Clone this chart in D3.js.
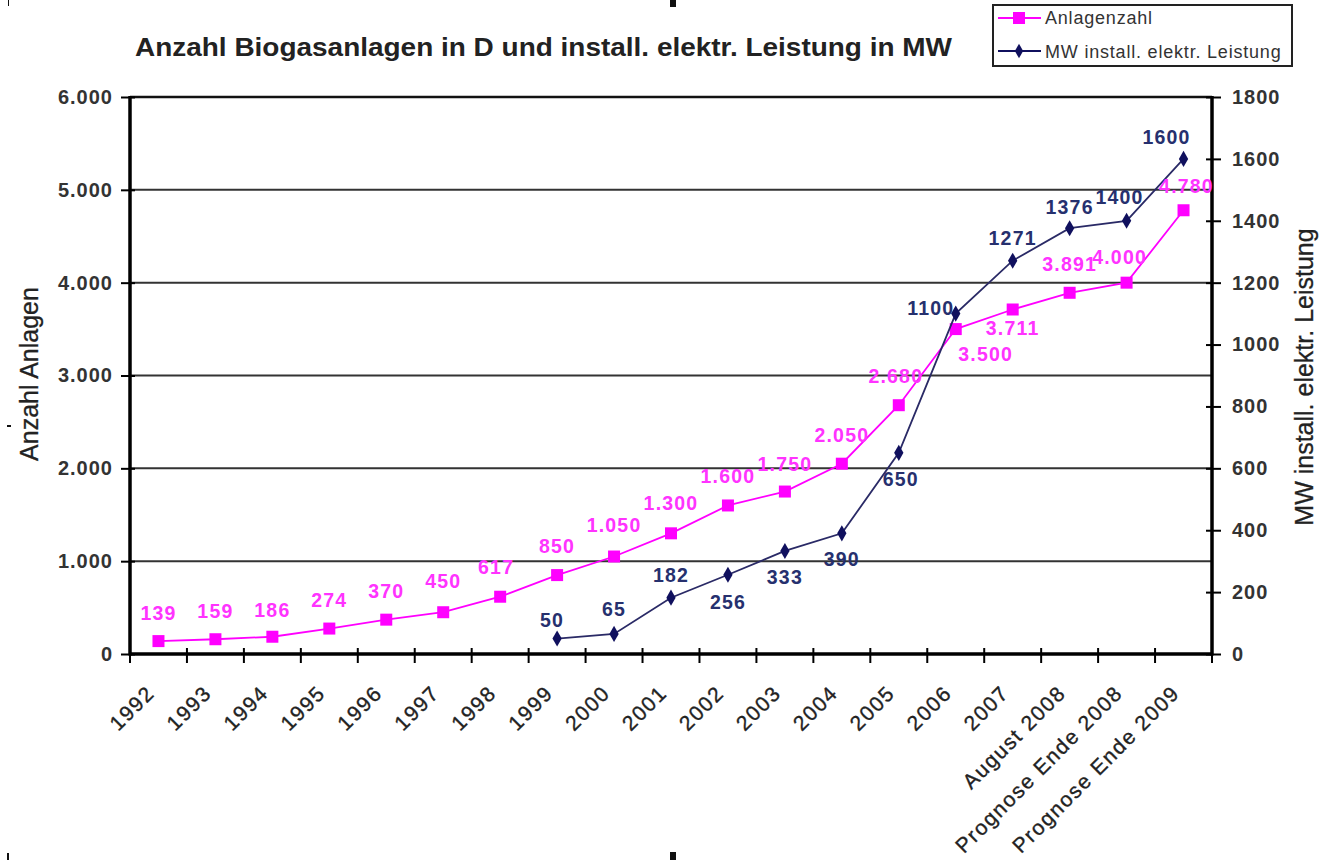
<!DOCTYPE html>
<html>
<head>
<meta charset="utf-8">
<script src="https://d3js.org/d3.v7.min.js"></script>
<style>
  body { margin: 0; background: #fff; }
  svg { display: block; font-family: "Liberation Sans", Arial, sans-serif; }
</style>
</head>
<body>
<script>
// categories on the x axis
var categories = ["1992", "1993", "1994", "1995", "1996", "1997", "1998", "1999",
    "2000", "2001", "2002", "2003", "2004", "2005", "2006", "2007",
    "August 2008", "Prognose Ende 2008", "Prognose Ende 2009"];

// number of plants (left axis)
var anlagen = [139, 159, 186, 274, 370, 450, 617, 850, 1050, 1300, 1600, 1750,
    2050, 2680, 3500, 3711, 3891, 4000, 4780];

// installed electric capacity in MW (right axis), starts 1999
var mwCats = ["1999", "2000", "2001", "2002", "2003", "2004", "2005", "2006",
    "2007", "August 2008", "Prognose Ende 2008", "Prognose Ende 2009"];
var mwValues = [50, 65, 182, 256, 333, 390, 650, 1100, 1271, 1376, 1400, 1600];

var leftTicks = [0, 1000, 2000, 3000, 4000, 5000, 6000];
var rightTicks = [0, 200, 400, 600, 800, 1000, 1200, 1400, 1600, 1800];

// label placement offsets (px from the point), by hand like in the original
var anlOff = [[0,-21],[0,-21],[0,-20],[0,-22],[0,-22],[0,-24],[-4,-23],[0,-22],[0,-25],
    [0,-23],[0,-22],[0,-21],[0,-22],[-3,-22],[30,32],[0,26],[0,-22],[-7,-19],[3,-17]];
var mwOff = [[-5,-12],[0,-18],[0,-16],[0,34],[0,33],[0,33],[2,33],[-25,1],
    [0,-16],[0,-14],[-7,-17],[-17,-15]];

var W = 1321, H = 860;
var M = { left: 130, right: 1212, top: 97, bottom: 654 };

var svg = d3.select("body").append("svg")
    .attr("width", W)
    .attr("height", H);

var x = d3.scaleBand()
    .domain(categories)
    .range([M.left, M.right])
    .padding(0);
var cx = function(c) { return x(c) + x.bandwidth() / 2; };

var yL = d3.scaleLinear().domain([0, 6000]).range([M.bottom, M.top]);
var yR = d3.scaleLinear().domain([0, 1800]).range([M.bottom, M.top]);

// german thousands separator
var fmt = function(v) { return d3.format(",")(v).replace(/,/g, "."); };

/* gridlines */
svg.append("g").selectAll("line")
    .data(leftTicks.slice(1))
    .enter().append("line")
    .attr("x1", M.left).attr("x2", M.right)
    .attr("y1", function(d) { return yL(d); })
    .attr("y2", function(d) { return yL(d); })
    .style("stroke", "#333")
    .style("stroke-width", 2);

/* frame */
svg.append("line").attr("x1", M.left).attr("x2", M.right)
    .attr("y1", M.top).attr("y2", M.top)
    .style("stroke", "#111").style("stroke-width", 2.5);
svg.append("line").attr("x1", M.left).attr("x2", M.left)
    .attr("y1", M.top - 1).attr("y2", M.bottom + 1.5)
    .style("stroke", "#000").style("stroke-width", 3.5);
svg.append("line").attr("x1", M.right).attr("x2", M.right)
    .attr("y1", M.top - 1).attr("y2", M.bottom + 1.5)
    .style("stroke", "#000").style("stroke-width", 3.5);
svg.append("line").attr("x1", M.left).attr("x2", M.right)
    .attr("y1", M.bottom).attr("y2", M.bottom)
    .style("stroke", "#000").style("stroke-width", 3.5);

/* left axis */
var gL = svg.append("g").attr("transform", "translate(" + M.left + ",0)")
    .call(d3.axisLeft(yL).tickValues(leftTicks).tickFormat(fmt).tickSize(9).tickPadding(8));
gL.select(".domain").remove();
gL.selectAll(".tick line").attr("x2", -9).attr("x1", 5).style("stroke", "#000").style("stroke-width", 2);
gL.selectAll(".tick text")
    .style("font-size", "20px").style("font-weight", "bold")
    .style("fill", "#333").style("letter-spacing", "1px")
    .attr("x", -17);

/* right axis */
var gR = svg.append("g").attr("transform", "translate(" + M.right + ",0)")
    .call(d3.axisRight(yR).tickValues(rightTicks).tickFormat(d3.format("d")).tickSize(9).tickPadding(8));
gR.select(".domain").remove();
gR.selectAll(".tick line").attr("x2", 9).attr("x1", -6).style("stroke", "#000").style("stroke-width", 2);
gR.selectAll(".tick text")
    .style("font-size", "20px").style("font-weight", "bold")
    .style("fill", "#333").style("letter-spacing", "1px")
    .attr("x", 20);

/* x axis ticks between categories */
var bounds = categories.map(function(c) { return x(c); }).concat([M.right]);
svg.append("g").selectAll("line")
    .data(bounds)
    .enter().append("line")
    .attr("x1", function(d) { return d; })
    .attr("x2", function(d) { return d; })
    .attr("y1", M.bottom - 6)
    .attr("y2", M.bottom + 9)
    .style("stroke", "#000")
    .style("stroke-width", 2);

/* x labels, rotated */
svg.append("g").selectAll("text")
    .data(categories)
    .enter().append("text")
    .attr("transform", function(d) {
        return "translate(" + (cx(d) - 13) + "," + (M.bottom + 30) + ") rotate(-45)";
    })
    .attr("text-anchor", "end")
    .attr("dy", "0.7em")
    .style("font-size", "21px")
    .style("fill", "#222")
    .style("stroke", "#222")
    .style("stroke-width", 0.35)
    .style("letter-spacing", "1.6px")
    .text(function(d) { return d; });

/* Anlagenzahl line */
var pink = "#ff00ff";
var lineL = d3.line()
    .x(function(d, i) { return cx(categories[i]); })
    .y(function(d) { return yL(d); });
svg.append("path").datum(anlagen)
    .attr("d", lineL)
    .style("fill", "none")
    .style("stroke", pink)
    .style("stroke-width", 1.8);
svg.append("g").selectAll("rect")
    .data(anlagen)
    .enter().append("rect")
    .attr("x", function(d, i) { return cx(categories[i]) - 6; })
    .attr("y", function(d) { return yL(d) - 6; })
    .attr("width", 12).attr("height", 12)
    .style("fill", pink);

/* MW line */
var navy = "#10105e";
var lineR = d3.line()
    .x(function(d, i) { return cx(mwCats[i]); })
    .y(function(d) { return yR(d); });
svg.append("path").datum(mwValues)
    .attr("d", lineR)
    .style("fill", "none")
    .style("stroke", "#2a2a66")
    .style("stroke-width", 1.8);
svg.append("g").selectAll("path.dia")
    .data(mwValues)
    .enter().append("path")
    .attr("class", "dia")
    .attr("d", d3.symbol().type(d3.symbolDiamond).size(75))
    .attr("transform", function(d, i) { return "translate(" + cx(mwCats[i]) + "," + yR(d) + ")"; })
    .style("fill", navy);

/* data labels */
svg.append("g").selectAll("text")
    .data(anlagen)
    .enter().append("text")
    .attr("x", function(d, i) { return cx(categories[i]) + anlOff[i][0]; })
    .attr("y", function(d, i) { return yL(d) + anlOff[i][1]; })
    .attr("text-anchor", "middle")
    .style("font-size", "19.5px").style("font-weight", "bold")
    .style("fill", "#ff33ff").style("letter-spacing", "1.2px")
    .text(fmt);

svg.append("g").selectAll("text")
    .data(mwValues)
    .enter().append("text")
    .attr("x", function(d, i) { return cx(mwCats[i]) + mwOff[i][0]; })
    .attr("y", function(d, i) { return yR(d) + mwOff[i][1]; })
    .attr("text-anchor", "middle")
    .style("font-size", "19.5px").style("font-weight", "bold")
    .style("fill", "#26306e").style("letter-spacing", "1.2px")
    .text(function(d) { return d; });

/* title */
svg.append("text")
    .attr("x", 135).attr("y", 56)
    .attr("textLength", 817)
    .attr("lengthAdjust", "spacingAndGlyphs")
    .style("font-size", "25px").style("font-weight", "bold")
    .style("fill", "#222")
    .text("Anzahl Biogasanlagen in D und install. elektr. Leistung in MW");

/* axis titles */
svg.append("text")
    .attr("transform", "translate(38,374) rotate(-90)")
    .attr("text-anchor", "middle")
    .style("font-size", "25px")
    .style("fill", "#222")
    .style("stroke", "#222").style("stroke-width", 0.3)
    .text("Anzahl Anlagen");
svg.append("text")
    .attr("transform", "translate(1313,377) rotate(-90)")
    .attr("text-anchor", "middle")
    .style("font-size", "25px")
    .style("fill", "#222")
    .style("stroke", "#222").style("stroke-width", 0.3)
    .text("MW install. elektr. Leistung");

/* legend */
var leg = svg.append("g");
leg.append("rect")
    .attr("x", 993).attr("y", 5).attr("width", 299).attr("height", 61)
    .style("fill", "#fff").style("stroke", "#222").style("stroke-width", 2);
leg.append("line").attr("x1", 998).attr("x2", 1041).attr("y1", 18).attr("y2", 18)
    .style("stroke", pink).style("stroke-width", 2);
leg.append("rect").attr("x", 1013).attr("y", 12).attr("width", 12).attr("height", 12)
    .style("fill", pink);
leg.append("text").attr("x", 1045).attr("y", 24)
    .style("font-size", "18px").style("fill", "#333").style("letter-spacing", "0.8px")
    .text("Anlagenzahl");
leg.append("line").attr("x1", 998).attr("x2", 1041).attr("y1", 51).attr("y2", 51)
    .style("stroke", navy).style("stroke-width", 2);
leg.append("path")
    .attr("d", d3.symbol().type(d3.symbolDiamond).size(60))
    .attr("transform", "translate(1019,51)")
    .style("fill", navy);
leg.append("text").attr("x", 1045).attr("y", 58)
    .style("font-size", "18px").style("fill", "#333").style("letter-spacing", "0.8px")
    .text("MW install. elektr. Leistung");

/* crop marks of the scanned page */
var marks = [[670, 0, 6, 7], [670, 852, 6, 8], [7, 425, 4, 2], [7, 853, 2, 7], [8, 0, 1, 6]];
svg.append("g").selectAll("rect")
    .data(marks)
    .enter().append("rect")
    .attr("x", function(d) { return d[0]; })
    .attr("y", function(d) { return d[1]; })
    .attr("width", function(d) { return d[2]; })
    .attr("height", function(d) { return d[3]; })
    .style("fill", "#111");
</script>
</body>
</html>
